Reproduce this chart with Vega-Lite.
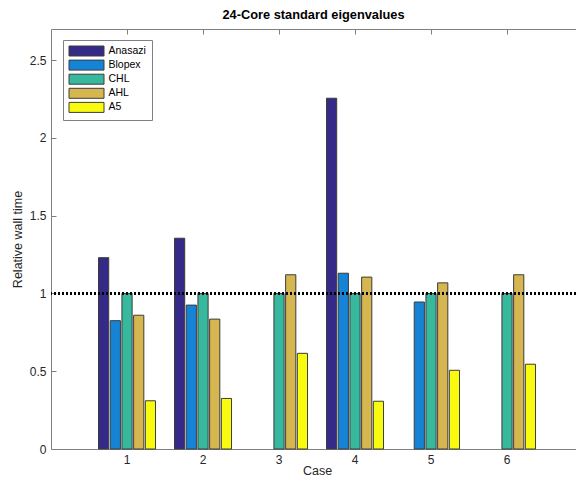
{
  "$schema": "https://vega.github.io/schema/vega-lite/v6.json",
  "autosize": "none",
  "width": 525,
  "height": 420,
  "padding": {"left": 51, "top": 29, "right": 0, "bottom": 38},
  "background": "white",
  "title": {"text": "24-Core standard eigenvalues", "font": "Liberation Sans", "fontSize": 12.8, "fontWeight": "bold", "color": "#000000", "offset": 7, "anchor": "middle"},
  "config": {
    "view": {"stroke": null},
    "axis": {
      "domainColor": "#808080", "domainWidth": 1,
      "tickColor": "#808080", "tickWidth": 1,
      "labelFont": "Liberation Sans", "labelFontSize": 12, "labelColor": "#262626",
      "titleFont": "Liberation Sans", "titleFontSize": 12.5, "titleFontWeight": "normal", "titleColor": "#262626",
      "grid": false
    }
  },
  "data": {
    "values": [
      {"case": 1, "method": "Anasazi", "value": 1.23},
      {"case": 1, "method": "Blopex", "value": 0.825},
      {"case": 1, "method": "CHL", "value": 1.0},
      {"case": 1, "method": "AHL", "value": 0.86},
      {"case": 1, "method": "A5", "value": 0.31},
      {"case": 2, "method": "Anasazi", "value": 1.355},
      {"case": 2, "method": "Blopex", "value": 0.925},
      {"case": 2, "method": "CHL", "value": 1.0},
      {"case": 2, "method": "AHL", "value": 0.835},
      {"case": 2, "method": "A5", "value": 0.325},
      {"case": 3, "method": "CHL", "value": 1.0},
      {"case": 3, "method": "AHL", "value": 1.12},
      {"case": 3, "method": "A5", "value": 0.615},
      {"case": 4, "method": "Anasazi", "value": 2.255},
      {"case": 4, "method": "Blopex", "value": 1.13},
      {"case": 4, "method": "CHL", "value": 1.0},
      {"case": 4, "method": "AHL", "value": 1.105},
      {"case": 4, "method": "A5", "value": 0.307},
      {"case": 5, "method": "Blopex", "value": 0.945},
      {"case": 5, "method": "CHL", "value": 1.0},
      {"case": 5, "method": "AHL", "value": 1.068},
      {"case": 5, "method": "A5", "value": 0.506},
      {"case": 6, "method": "CHL", "value": 1.0},
      {"case": 6, "method": "AHL", "value": 1.12},
      {"case": 6, "method": "A5", "value": 0.545}
    ]
  },
  "layer": [
    {
      "mark": {"type": "bar", "stroke": "#3c3c3c", "strokeWidth": 1},
      "encoding": {
        "x": {
          "field": "case", "type": "ordinal",
          "scale": {"domain": [1, 2, 3, 4, 5, 6], "paddingInner": 0.25, "paddingOuter": 0.579, "align": 0.54},
          "axis": {"orient": "bottom", "title": "Case", "labelAngle": 0, "tickSize": -5, "labelPadding": 10, "titlePadding": -1, "titleX": 266}
        },
        "xOffset": {
          "field": "method", "type": "nominal",
          "scale": {"domain": ["Anasazi", "Blopex", "CHL", "AHL", "A5"], "paddingInner": 0.13, "paddingOuter": 0}
        },
        "y": {
          "field": "value", "type": "quantitative",
          "scale": {"domain": [0, 2.7], "nice": false},
          "axis": {"title": "Relative wall time", "values": [0, 0.5, 1, 1.5, 2, 2.5], "format": "~g", "tickSize": -5, "labelPadding": 10, "titlePadding": 5}
        },
        "color": {
          "field": "method", "type": "nominal",
          "scale": {"domain": ["Anasazi", "Blopex", "CHL", "AHL", "A5"], "range": ["#352a87", "#1583d6", "#38b99e", "#d6b64f", "#f9fb0e"]},
          "legend": {
            "orient": "none", "legendX": 12, "legendY": 11, "title": null,
            "symbolType": "M-1,-1H6V1H-1Z", "symbolSize": 100,
            "symbolStrokeColor": "#3c3c3c", "symbolStrokeWidth": 1, "symbolOpacity": 1,
            "labelFont": "Liberation Sans", "labelFontSize": 10.5, "labelColor": "#000000", "labelOffset": 29,
            "strokeColor": "#808080", "fillColor": "white", "padding": 5.5, "rowPadding": -0.9
          }
        }
      }
    },
    {
      "mark": {"type": "point", "opacity": 0},
      "encoding": {
        "x": {"field": "case", "type": "ordinal", "axis": {"orient": "top", "title": null, "labels": false, "tickSize": -5}}
      }
    },
    {
      "mark": {"type": "rule", "color": "#000000", "strokeDash": [2, 2], "strokeWidth": 2.5},
      "encoding": {"y": {"datum": 1}}
    }
  ],
  "resolve": {"axis": {"x": "independent"}}
}
